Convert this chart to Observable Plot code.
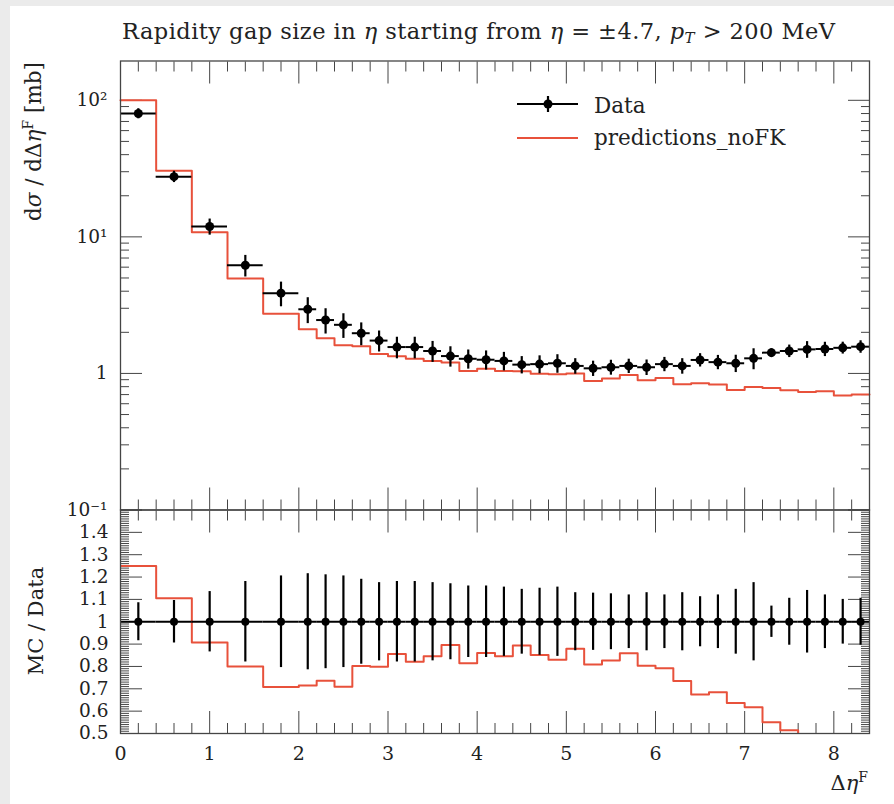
<!DOCTYPE html>
<html><head><meta charset="utf-8">
<script src="https://cdn.jsdelivr.net/npm/d3@7"></script>
<script src="https://cdn.jsdelivr.net/npm/@observablehq/plot@0.6"></script>
<style>
html,body{margin:0;padding:0;background:#ebebeb;}
#card{position:absolute;left:10px;top:6px;width:884px;height:798px;background:#fff;}
#wrap{position:absolute;left:0;top:0;width:894px;height:804px;}
#wrap svg{position:absolute;left:0;}
text{font-family:"DejaVu Serif";}
</style></head><body>
<div id="card"></div>
<div id="wrap"></div>
<script>
// ---- data ----
const binEdges = [0,0.4,0.8,1.2,1.6,2.0,2.2,2.4,2.6,2.8,3.0,3.2,3.4,3.6,3.8,4.0,4.2,4.4,4.6,4.8,5.0,5.2,5.4,5.6,5.8,6.0,6.2,6.4,6.6,6.8,7.0,7.2,7.4,7.6,7.8,8.0,8.2,8.4];
const dataValues = [80,27.6,11.9,6.2,3.87,2.95,2.46,2.27,1.97,1.74,1.56,1.56,1.46,1.34,1.28,1.26,1.235,1.16,1.17,1.187,1.135,1.09,1.11,1.135,1.11,1.17,1.135,1.255,1.21,1.187,1.29,1.42,1.46,1.50,1.51,1.54,1.57];
const dataRelErr = [0.085,0.095,0.135,0.18,0.205,0.215,0.21,0.205,0.19,0.175,0.18,0.18,0.175,0.17,0.16,0.16,0.155,0.145,0.15,0.155,0.13,0.128,0.125,0.12,0.13,0.12,0.13,0.112,0.12,0.145,0.175,0.07,0.105,0.14,0.12,0.10,0.105];
const mcValues = [100,30.5,10.8,4.96,2.74,2.11,1.81,1.61,1.58,1.39,1.335,1.28,1.234,1.20,1.043,1.084,1.044,1.037,0.996,0.985,0.998,0.881,0.917,0.975,0.891,0.927,0.834,0.846,0.829,0.755,0.796,0.781,0.752,0.73,0.74,0.69,0.70];

const xMajorTicks = [0,1,2,3,4,5,6,7,8];
const xMinorTicks = d3.range(0, 8.41, 0.2).map(v => +v.toFixed(1)).filter(v => !Number.isInteger(v));
const xTickLabels = ["0","1","2","3","4","5","6","7","8"];
const yMajorLog = [0.1, 1, 10, 100];
const yLogLabels = ["10⁻¹", "1", "10¹", "10²"];
const yMinorLog = [0.2,0.3,0.4,0.5,0.6,0.7,0.8,0.9,2,3,4,5,6,7,8,9,20,30,40,50,60,70,80,90];
const yMajorRatio = [0.5,0.6,0.7,0.8,0.9,1,1.1,1.2,1.3,1.4,1.5];
const yRatioLabelTicks = [0.5,0.6,0.7,0.8,0.9,1,1.1,1.2,1.3,1.4];
const yRatioLabels = ["0.5","0.6","0.7","0.8","0.9","1","1.1","1.2","1.3","1.4"];
const yMinorRatio = d3.range(50, 151).filter(v => v % 10 !== 0).map(v => v / 100);

// ---- derived tables ----
const bins = dataValues.map((d, i) => ({
  lo: binEdges[i], hi: binEdges[i + 1], x: (binEdges[i] + binEdges[i + 1]) / 2,
  data: d, e0: d * (1 - dataRelErr[i]), e1: d * (1 + dataRelErr[i]),
  mc: mcValues[i], ratio: mcValues[i] / d, r0: 1 - dataRelErr[i], r1: 1 + dataRelErr[i], one: 1
}));
const last = bins[bins.length - 1];
const mcStep = [...bins.map(b => ({x: b.lo, y: b.mc})), {x: last.hi, y: last.mc}];
const ratioStep = [...bins.map(b => ({x: b.lo, y: b.ratio})), {x: last.hi, y: last.ratio}];

const FONT = "DejaVu Serif";
const INK = "#454545";
const RED = "#e8513b";

function frameTicks(yMaj, yMin) {
  const o = {tickFormat: () => "", label: null, stroke: INK, strokeWidth: 1};
  return [
    Plot.axisX({...o, ticks: xMajorTicks, anchor: "top", tickSize: -22}),
    Plot.axisX({...o, ticks: xMinorTicks, anchor: "top", tickSize: -10}),
    Plot.axisX({...o, ticks: xMajorTicks, anchor: "bottom", tickSize: -22}),
    Plot.axisX({...o, ticks: xMinorTicks, anchor: "bottom", tickSize: -10}),
    Plot.axisY({...o, ticks: yMaj, anchor: "left", tickSize: -22}),
    Plot.axisY({...o, ticks: yMin, anchor: "left", tickSize: -9}),
    Plot.axisY({...o, ticks: yMaj, anchor: "right", tickSize: -22}),
    Plot.axisY({...o, ticks: yMin, anchor: "right", tickSize: -9})
  ];
}

const upper = Plot.plot({
  width: 894, height: 520,
  marginTop: 60.5, marginBottom: 10.5, marginLeft: 120, marginRight: 25,
  style: {background: "transparent", fontFamily: FONT, fontSize: "18.5px", color: "#222", overflow: "visible"},
  x: {domain: [0, 8.4]},
  y: {type: "log", domain: [0.1, 194]},
  marks: [
    ...frameTicks(yMajorLog, yMinorLog),
    Plot.axisY({ticks: yMajorLog, anchor: "left", tickSize: 0, tickPadding: 13,
      tickFormat: d => yLogLabels[yMajorLog.indexOf(d)], label: null, fill: "#222"}),
    Plot.line(mcStep, {x: "x", y: "y", curve: "step-after", stroke: RED, strokeWidth: 2}),
    Plot.ruleY(bins, {y: "data", x1: "lo", x2: "hi", stroke: "black", strokeWidth: 2}),
    Plot.ruleX(bins, {x: "x", y1: "e0", y2: "e1", stroke: "black", strokeWidth: 2.2}),
    Plot.dot(bins, {x: "x", y: "data", r: 4.5, fill: "black", stroke: "none"}),
    Plot.frame({stroke: INK, strokeWidth: 1.3})
  ]
});
upper.style.top = "0px";

const lower = Plot.plot({
  width: 894, height: 324,
  marginTop: 29.5, marginBottom: 71, marginLeft: 120, marginRight: 25,
  style: {background: "transparent", fontFamily: FONT, fontSize: "18.5px", color: "#222", overflow: "visible"},
  x: {domain: [0, 8.4]},
  y: {domain: [0.5, 1.5]},
  marks: [
    ...frameTicks(yMajorRatio, yMinorRatio),
    Plot.axisY({ticks: yRatioLabelTicks, anchor: "left", tickSize: 0, tickPadding: 12,
      tickFormat: d => yRatioLabels[yRatioLabelTicks.indexOf(d)], label: null, fill: "#222"}),
    Plot.axisX({ticks: xMajorTicks, anchor: "bottom", tickSize: 0, tickPadding: 13,
      tickFormat: d => xTickLabels[xMajorTicks.indexOf(d)], label: null, fill: "#222", fontSize: 19}),
    Plot.line(ratioStep, {x: "x", y: "y", curve: "step-after", stroke: RED, strokeWidth: 2, clip: true}),
    Plot.ruleY(bins, {y: "one", x1: "lo", x2: "hi", stroke: "black", strokeWidth: 2}),
    Plot.ruleX(bins, {x: "x", y1: "r0", y2: "r1", stroke: "black", strokeWidth: 2.2}),
    Plot.dot(bins, {x: "x", y: "one", r: 4, fill: "black", stroke: "none"}),
    Plot.frame({stroke: INK, strokeWidth: 1.3})
  ]
});
lower.style.top = "480px";

const wrap = document.getElementById("wrap");
wrap.appendChild(upper);
wrap.appendChild(lower);

// ---- titles, axis labels and legend ----
const ns = "http://www.w3.org/2000/svg";
const ov = document.createElementNS(ns, "svg");
ov.setAttribute("width", 894); ov.setAttribute("height", 804);
ov.style.top = "0px";
ov.innerHTML = `
<text x="122" y="39" font-size="22.5" fill="#222" textLength="713" lengthAdjust="spacing">Rapidity gap size in <tspan font-style="italic">η</tspan> starting from <tspan font-style="italic">η</tspan> = ±4.7, <tspan font-style="italic">p</tspan><tspan font-style="italic" font-size="15" dy="4">T</tspan><tspan dy="-4"> &gt; 200 MeV</tspan></text>
<text transform="translate(41,62) rotate(-90)" text-anchor="end" font-size="21.5" fill="#222">d<tspan font-style="italic">σ</tspan> / dΔ<tspan font-style="italic">η</tspan><tspan font-size="14" dy="-8">F</tspan><tspan dy="8"> [mb]</tspan></text>
<text transform="translate(43,621) rotate(-90)" text-anchor="middle" font-size="21" fill="#222">MC / Data</text>
<text x="868" y="790" text-anchor="end" font-size="21" fill="#222">Δ<tspan font-style="italic">η</tspan><tspan font-size="14" dy="-8">F</tspan></text>
<line x1="517" x2="578" y1="104" y2="104" stroke="black" stroke-width="2"/>
<line x1="548" x2="548" y1="96" y2="112" stroke="black" stroke-width="2.2"/>
<circle cx="548" cy="104" r="4.5" fill="black"/>
<text x="594" y="113" font-size="21.5" fill="#222">Data</text>
<line x1="517" x2="578" y1="138" y2="138" stroke="${RED}" stroke-width="2"/>
<text x="594" y="145" font-size="21.5" fill="#222">predictions_noFK</text>
`;
wrap.appendChild(ov);
</script>
</body></html>
